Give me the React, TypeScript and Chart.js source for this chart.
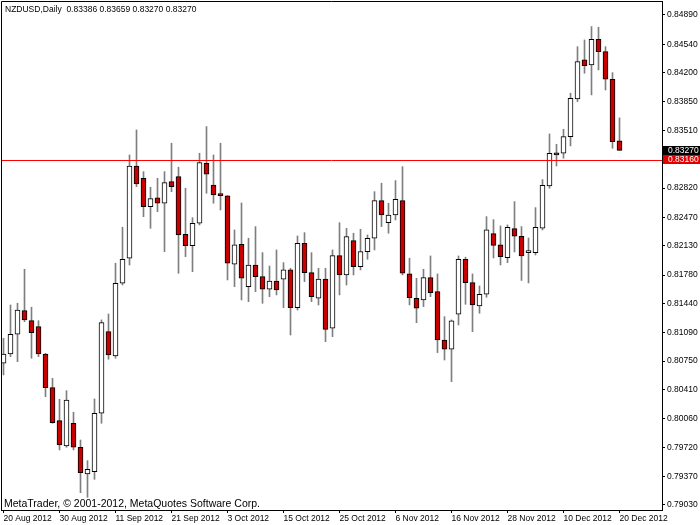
import React, { useEffect, useRef } from 'react';
import { Chart, registerables } from 'chart.js';

Chart.register(...registerables);

const TITLE = 'NZDUSD,Daily  0.83386 0.83659 0.83270 0.83270';
const COPYRIGHT = 'MetaTrader, \u00a9 2001-2012, MetaQuotes Software Corp.';

const opens = [
  0.80725, 0.80836, 0.81072, 0.81354, 0.81234, 0.81163, 0.80836, 0.80433, 0.80038, 0.79736,
  0.80007, 0.79720, 0.79401, 0.79428, 0.80127, 0.81103, 0.80812, 0.81682, 0.81981, 0.83084,
  0.82937, 0.82598, 0.82702, 0.82638, 0.82897, 0.82957, 0.82268, 0.82131, 0.82399, 0.83117,
  0.82857, 0.82740, 0.82726, 0.81909, 0.82148, 0.81641, 0.81900, 0.81761, 0.81610, 0.81709,
  0.81729, 0.81841, 0.81390, 0.82160, 0.81808, 0.81502, 0.81733, 0.81143, 0.82012, 0.81781,
  0.82191, 0.81880, 0.82060, 0.82220, 0.82669, 0.82406, 0.82498, 0.82669, 0.81793, 0.81502,
  0.81482, 0.81749, 0.81581, 0.81003, 0.80892, 0.81311, 0.81969, 0.81689, 0.81410, 0.81550,
  0.82275, 0.82140, 0.81988, 0.82335, 0.82244, 0.82048, 0.82048, 0.82339, 0.82845, 0.83236,
  0.83236, 0.83435, 0.83886, 0.84352, 0.84292, 0.84600, 0.84452, 0.84121, 0.83386,
];
const highs = [
  0.81024, 0.81422, 0.81442, 0.81849, 0.81395, 0.81234, 0.80844, 0.80545, 0.80294, 0.80397,
  0.80139, 0.79807, 0.79560, 0.80298, 0.81243, 0.81314, 0.81921, 0.82351, 0.83216, 0.83515,
  0.83016, 0.82830, 0.82937, 0.83016, 0.83356, 0.83069, 0.82818, 0.82466, 0.83236, 0.83555,
  0.83216, 0.83356, 0.82730, 0.82319, 0.82642, 0.82220, 0.82359, 0.82048, 0.81888, 0.82080,
  0.81928, 0.81861, 0.82247, 0.82287, 0.82048, 0.81861, 0.81861, 0.82080, 0.82406, 0.82339,
  0.82280, 0.82327, 0.82259, 0.82777, 0.82878, 0.82638, 0.82909, 0.83076, 0.81981, 0.81741,
  0.81849, 0.82008, 0.81793, 0.81282, 0.81243, 0.82008, 0.81993, 0.81793, 0.81649, 0.82478,
  0.82442, 0.82367, 0.82379, 0.82658, 0.82359, 0.82223, 0.82586, 0.82921, 0.83467, 0.83344,
  0.83523, 0.83954, 0.84511, 0.84591, 0.84751, 0.84743, 0.84511, 0.84200, 0.83659,
];
const lows = [
  0.80585, 0.80804, 0.80744, 0.81222, 0.80785, 0.80804, 0.80325, 0.80007, 0.79688, 0.79720,
  0.79688, 0.79177, 0.79122, 0.79337, 0.80007, 0.80773, 0.80785, 0.81661, 0.81900, 0.82837,
  0.82478, 0.82339, 0.82538, 0.82060, 0.82777, 0.81801, 0.82000, 0.81820, 0.82379, 0.82758,
  0.82638, 0.82558, 0.81721, 0.81641, 0.81482, 0.81462, 0.81581, 0.81442, 0.81521, 0.81542,
  0.81390, 0.81063, 0.81362, 0.81701, 0.81462, 0.81422, 0.80983, 0.81043, 0.81542, 0.81661,
  0.81781, 0.81841, 0.81969, 0.82080, 0.82359, 0.82280, 0.82439, 0.81781, 0.81422, 0.81210,
  0.81402, 0.81521, 0.80852, 0.80764, 0.80505, 0.81183, 0.81430, 0.81103, 0.81323, 0.81514,
  0.81984, 0.81900, 0.81928, 0.82056, 0.81715, 0.81685, 0.82020, 0.82319, 0.82818, 0.83084,
  0.83177, 0.83324, 0.83854, 0.84193, 0.83934, 0.84233, 0.83993, 0.83296, 0.83270,
];
const closes = [
  0.80836, 0.81072, 0.81362, 0.81243, 0.81091, 0.80836, 0.80433, 0.80014, 0.79748, 0.80286,
  0.79720, 0.79416, 0.79457, 0.80127, 0.81210, 0.80824, 0.81682, 0.81969, 0.83084, 0.82869,
  0.82598, 0.82693, 0.82638, 0.82885, 0.82837, 0.82259, 0.82131, 0.82399, 0.83124, 0.82985,
  0.82738, 0.82730, 0.81921, 0.82140, 0.81741, 0.81900, 0.81761, 0.81610, 0.81709, 0.81601,
  0.81841, 0.81390, 0.82160, 0.81808, 0.81521, 0.81733, 0.81131, 0.82012, 0.81781, 0.82239,
  0.81880, 0.82060, 0.82220, 0.82669, 0.82498, 0.82498, 0.82686, 0.81801, 0.81509, 0.81383,
  0.81749, 0.81569, 0.81003, 0.80892, 0.81231, 0.81969, 0.81689, 0.81422, 0.81550, 0.82319,
  0.82134, 0.82000, 0.82351, 0.82244, 0.82008, 0.82068, 0.82351, 0.82854, 0.83236, 0.83216,
  0.83435, 0.83894, 0.84332, 0.84284, 0.84600, 0.84452, 0.84121, 0.83375, 0.83270,
];

const xTickIndex = [0, 8, 16, 24, 32, 40, 48, 56, 64, 72, 80, 88];
const xTickLabels = [
  '20 Aug 2012', '30 Aug 2012', '11 Sep 2012', '21 Sep 2012', '3 Oct 2012', '15 Oct 2012',
  '25 Oct 2012', '6 Nov 2012', '16 Nov 2012', '28 Nov 2012', '10 Dec 2012', '20 Dec 2012',
];
const yTickValues = [
  0.8489, 0.8454, 0.842, 0.8385, 0.8351, 0.8316, 0.8282, 0.8247, 0.8213, 0.8178,
  0.8144, 0.8109, 0.8075, 0.8041, 0.8006, 0.7972, 0.7937, 0.7903,
];
const LINE_LEVEL = 0.8316;
const BID_LEVEL = 0.8327;

const FONT = "'Liberation Sans', Arial, sans-serif";

const overlayPlugin = {
  id: 'mtOverlay',
  afterDatasetsDraw(chart: any) {
    const { ctx, chartArea } = chart;
    const ys = chart.scales.y;
    const yl = Math.round(ys.getPixelForValue(LINE_LEVEL)) + 0.5;
    ctx.save();
    ctx.strokeStyle = '#ff0000';
    ctx.lineWidth = 1;
    ctx.beginPath();
    ctx.moveTo(chartArea.left, yl);
    ctx.lineTo(chartArea.right, yl);
    ctx.stroke();
    ctx.restore();
  },
  afterDraw(chart: any) {
    const { ctx, chartArea } = chart;
    const ys = chart.scales.y;
    ctx.save();
    ctx.strokeStyle = '#000';
    ctx.lineWidth = 1;
    ctx.beginPath();
    ctx.moveTo(chartArea.left + 0.5, chartArea.bottom);
    ctx.lineTo(chartArea.left + 0.5, chartArea.top + 0.5);
    ctx.lineTo(chartArea.right, chartArea.top + 0.5);
    ctx.stroke();

    const drawBox = (v: number, bg: string) => {
      const yc = ys.getPixelForValue(v);
      ctx.fillStyle = bg;
      ctx.fillRect(chartArea.right + 1, Math.round(yc - 4.5), 37, 9);
      ctx.fillStyle = '#ffffff';
      ctx.font = `8.5px ${FONT}`;
      ctx.textAlign = 'left';
      ctx.textBaseline = 'middle';
      ctx.fillText(v.toFixed(5), chartArea.right + 6, Math.round(yc - 4.5) + 5);
    };
    drawBox(BID_LEVEL, '#000000');
    drawBox(LINE_LEVEL, '#e00000');

    ctx.fillStyle = '#000';
    ctx.textAlign = 'left';
    ctx.textBaseline = 'alphabetic';
    ctx.font = `8.5px ${FONT}`;
    ctx.fillText(TITLE, 5, 12);
    ctx.font = `10.5px ${FONT}`;
    ctx.fillText(COPYRIGHT, 4, 507);
    ctx.restore();
  },
};

export default function App() {
  const ref = useRef<HTMLCanvasElement>(null);

  useEffect(() => {
    if (!ref.current) return;
    const idx = opens.map((_, i) => i);
    const bull = idx.map((i) => closes[i] >= opens[i]);
    const X_MIN = -0.35714;
    const X_MAX = X_MIN + 661 / 7;

    const chart = new Chart(ref.current, {
      type: 'bar',
      data: {
        datasets: [
          {
            label: 'body',
            data: idx.map((i) => ({ x: i, y: [opens[i], closes[i]] })) as any,
            backgroundColor: idx.map((i) => (bull[i] ? '#ffffff' : '#c80000')),
            borderColor: '#000000',
            borderWidth: 1,
            borderSkipped: false,
            barThickness: 5,
            minBarLength: 2,
            grouped: false,
            order: 0,
          } as any,
          {
            label: 'wick',
            data: idx.map((i) => ({ x: i, y: [lows[i], highs[i]] })) as any,
            backgroundColor: '#7f7f7f',
            borderWidth: 0,
            barThickness: 1,
            grouped: false,
            order: 1,
          } as any,
        ],
      },
      options: {
        responsive: false,
        animation: false,
        events: [],
        layout: { padding: { left: 1, top: 1, right: 0, bottom: 0 } },
        plugins: {
          legend: { display: false },
          tooltip: { enabled: false },
          title: { display: false },
        },
        scales: {
          x: {
            type: 'linear',
            position: 'bottom',
            offset: false,
            min: X_MIN,
            max: X_MAX,
            afterBuildTicks: (s: any) => {
              s.ticks = xTickIndex.map((v) => ({ value: v }));
            },
            afterFit: (s: any) => {
              s.height = 15;
              s.paddingLeft = 0;
              s.paddingRight = 0;
            },
            ticks: {
              callback: (_v: any, i: number) => xTickLabels[i],
              align: 'start',
              maxRotation: 0,
              minRotation: 0,
              autoSkip: false,
              padding: 1,
              color: '#000',
              font: { family: FONT, size: 8.5 },
            },
            grid: { offset: false, drawOnChartArea: false, drawTicks: true, tickLength: 3, color: '#000' },
            border: { display: true, color: '#000' },
          } as any,
          y: {
            type: 'linear',
            position: 'right',
            min: 0.7897,
            max: 0.85057,
            afterBuildTicks: (s: any) => {
              s.ticks = yTickValues.map((v) => ({ value: v }));
            },
            afterFit: (s: any) => {
              s.width = 38;
              s.paddingTop = 0;
              s.paddingBottom = 0;
            },
            ticks: {
              callback: (v: any) => Number(v).toFixed(5),
              autoSkip: false,
              padding: 2,
              color: '#000',
              font: { family: FONT, size: 8.5 },
            },
            grid: { drawOnChartArea: false, drawTicks: true, tickLength: 3, color: '#000' },
            border: { display: true, color: '#000' },
          } as any,
        },
      },
      plugins: [overlayPlugin],
    });

    return () => chart.destroy();
  }, []);

  return (
    <div style={{ position: 'absolute', left: 0, top: 0, width: 700, height: 525, background: '#fff' }}>
      <canvas ref={ref} width={700} height={525} style={{ width: 700, height: 525, display: 'block' }} />
    </div>
  );
}
